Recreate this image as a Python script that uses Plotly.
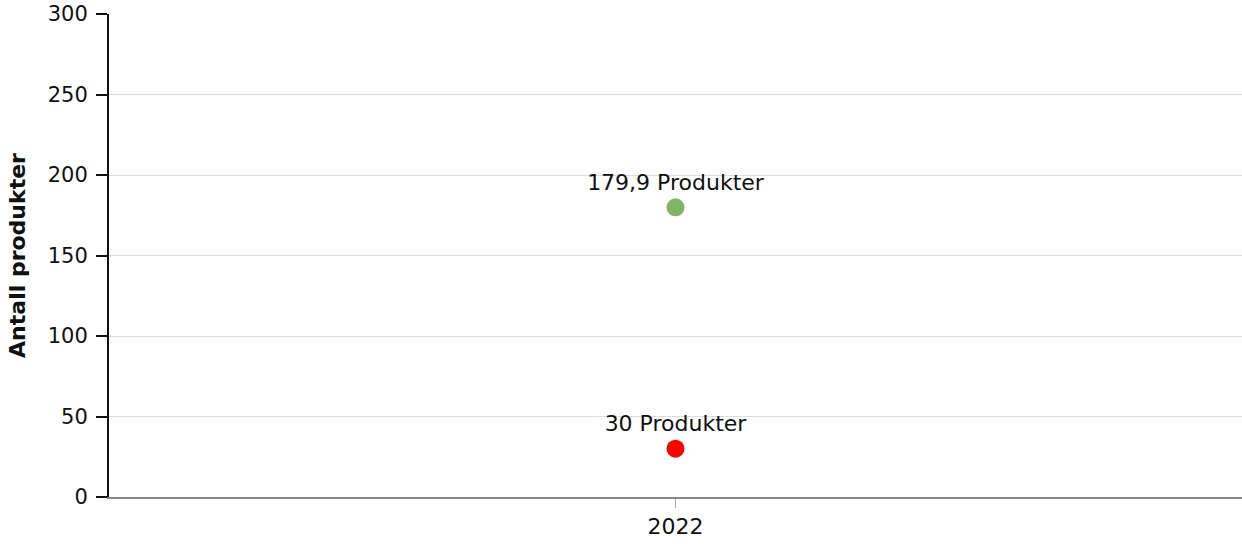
import plotly.graph_objects as go

categories = ["2022"]
series_names = ["Høy", "Lav"]
series_values = [[179.9], [30]]
series_labels = ["179,9 Produkter", "30 Produkter"]
series_colors = ["#82b563", "#ff0000"]
y_ticks = [0, 50, 100, 150, 200, 250, 300]

FONT = "DejaVu Sans, Verdana, sans-serif"

fig = go.Figure()
for name, vals, lab, col in zip(series_names, series_values, series_labels, series_colors):
    fig.add_trace(go.Scatter(
        x=categories, y=vals, mode="markers+text", name=name,
        text=[lab], textposition="top center",
        textfont=dict(family=FONT, size=22, color="#111"),
        marker=dict(color=col, size=18),
        cliponaxis=False,
    ))

fig.update_layout(
    width=1242, height=545,
    margin=dict(l=109, r=0, t=14, b=48),
    paper_bgcolor="white", plot_bgcolor="white",
    showlegend=False,
    font=dict(family=FONT, size=22, color="#111"),
)
fig.update_xaxes(
    type="category", showgrid=False,
    showline=True, linecolor="#888", linewidth=1.5,
    ticks="outside", ticklen=9, tickcolor="#aaa",
    tickfont=dict(size=22),
)
fig.update_yaxes(
    range=[0, 300], tickvals=y_ticks,
    showgrid=True, gridcolor="#dddddd", gridwidth=1,
    showline=True, linecolor="#111", linewidth=2,
    ticks="outside", ticklen=11, tickcolor="#111", tickwidth=2,
    tickfont=dict(size=21),
    ticklabelstandoff=4,
    zeroline=False,
    title=dict(text="<b>Antall produkter</b>", font=dict(size=22), standoff=16),
)

fig.write_html(
    "out.html",
    config={"displayModeBar": False},
    post_script="document.body.style.margin='0';document.body.style.padding='0';",
)
